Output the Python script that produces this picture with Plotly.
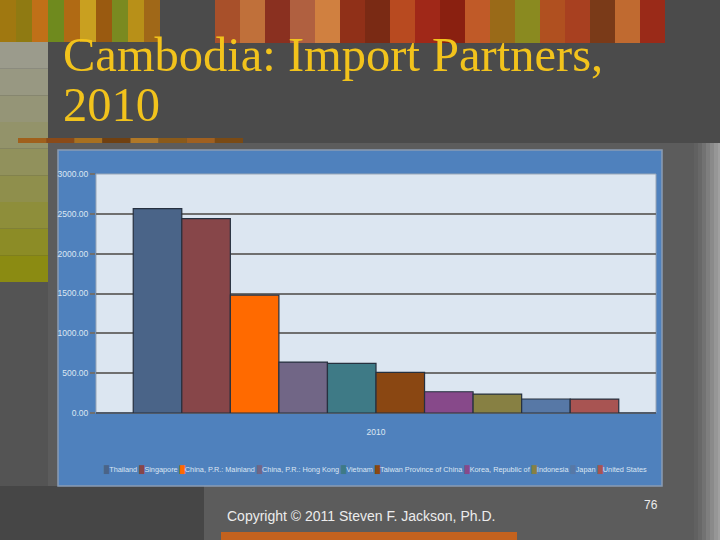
import plotly.graph_objects as go

# ---- data ----
year = ["2010"]
partners = ["Thailand", "Singapore", "China, P.R.: Mainland", "China, P.R.: Hong Kong",
            "Vietnam", "Taiwan Province of China", "Korea, Republic of", "Indonesia",
            "Japan", "United States"]
imports = [2565, 2440, 1479, 639, 623, 510, 267, 238, 176, 175]
bar_colors = ["#4a6488", "#874649", "#ff6a00", "#716686", "#3e7a86", "#8a4712",
              "#87498a", "#878043", "#5778a6", "#a85452"]
y_ticks = [0, 500, 1000, 1500, 2000, 2500, 3000]

W, H = 720, 540
L, R, T, B = 96, 656, 174, 413  # plot area in pixels
pw, ph = R - L, B - T


def px(x):
    return (x - L) / pw


def py(y):
    return (B - y) / ph


small = "Liberation Sans, Arial, sans-serif"

fig = go.Figure()
for name, val, col in zip(partners, imports, bar_colors):
    fig.add_trace(go.Bar(x=year, y=[val], name=name, marker=dict(color=col, line=dict(color="#26303f", width=1.2)),
                         showlegend=False))

shapes = []


def rect(x0, y0, x1, y1, color, layer="below"):
    shapes.append(dict(type="rect", xref="paper", yref="paper", x0=px(x0), x1=px(x1), y0=py(y0), y1=py(y1),
                       fillcolor=color, line=dict(width=0), layer=layer))


# slide background regions
rect(48, 143, 720, 540, "#5c5c5c")
rect(0, 486, 204, 540, "#464646")
rect(0, 282, 48, 486, "#545454")
# left olive strip (vertical gradient approximation)
strip_cols = ["#9b9b8c", "#989882", "#959577", "#93936a", "#91915c", "#8f8f4c", "#8e8e3a", "#8c8c26", "#8b8b12"]
n = len(strip_cols)
for i, c in enumerate(strip_cols):
    rect(0, 42 + i * (240 / n), 48, 42 + (i + 1) * (240 / n), c)
# right edge gradient
edge_cols = ["#616161", "#686868", "#727272", "#7e7e7e", "#8a8a8a", "#969696", "#a0a0a0"]
for i, c in enumerate(edge_cols):
    rect(694 + i * 4, 143, 698 + i * 4 + (6 if i == len(edge_cols) - 1 else 0), 540, c)
# top artwork approximations
art_left = ["#a07810", "#8f7a12", "#c07018", "#6f8a1e", "#b06a14", "#c9a020", "#9a5a10", "#7a8a20",
            "#b89018", "#a06818"]
wl = 160 / len(art_left)
for i, c in enumerate(art_left):
    rect(i * wl, 0, (i + 1) * wl, 42, c)
art_right = ["#a8502a", "#c0703a", "#8a3020", "#b06040", "#d08040", "#903018", "#7a2a14",
             "#b84a20", "#a02818", "#8a2010", "#c05a28", "#9a6a18", "#8a8a20", "#b05020", "#a84020",
             "#7a3a18", "#c06a30", "#9a2a18"]
wr = (665 - 215) / len(art_right)
for i, c in enumerate(art_right):
    rect(215 + i * wr, 0, 215 + (i + 1) * wr, 43, c)
# thin decorative strip under title
thin = ["#a0601c", "#8a4a18", "#a87020", "#704010", "#b07828", "#8a5a1a", "#a06020", "#7a4a14"]
wt = (243 - 18) / len(thin)
for i, c in enumerate(thin):
    rect(18 + i * wt, 138, 18 + (i + 1) * wt, 143, c)
# bottom orange bar
rect(221, 532, 517, 540, "#c4621e")
# chart frame
shapes.append(dict(type="rect", xref="paper", yref="paper", x0=px(58), x1=px(662), y0=py(486), y1=py(150),
                   fillcolor="#4f81bd", line=dict(color="#8a9cb4", width=1.5), layer="below"))
shapes.append(dict(type="rect", xref="paper", yref="paper", x0=0, x1=1, y0=0, y1=1,
                   fillcolor="#dce6f1", line=dict(color="#9aa6b6", width=1), layer="below"))

legend_text = " ".join(f"<span style='color:{c}'>█</span>{nm}" for nm, c in zip(partners, bar_colors))

annotations = [
    dict(text="Cambodia: Import Partners,", x=px(61), y=py(54), xref="paper", yref="paper",
         xanchor="left", yanchor="middle", showarrow=False,
         font=dict(family="Liberation Serif, DejaVu Serif, serif", size=48.5, color="#f2c31c")),
    dict(text="2010", x=px(61), y=py(104), xref="paper", yref="paper",
         xanchor="left", yanchor="middle", showarrow=False,
         font=dict(family="Liberation Serif, DejaVu Serif, serif", size=48.5, color="#f2c31c")),
    dict(text=legend_text, x=px(375), y=py(470), xref="paper", yref="paper",
         xanchor="center", yanchor="middle", showarrow=False,
         font=dict(family=small, size=7.3, color="#dce6f2")),
    dict(text="Copyright © 2011 Steven F. Jackson, Ph.D.", x=px(225), y=py(516), xref="paper", yref="paper",
         xanchor="left", yanchor="middle", showarrow=False,
         font=dict(family=small, size=14, color="#ececec")),
    dict(text="76", x=px(651), y=py(505), xref="paper", yref="paper",
         xanchor="center", yanchor="middle", showarrow=False,
         font=dict(family=small, size=12, color="#ececec")),
]

fig.update_layout(
    width=W, height=H,
    margin=dict(l=L, r=W - R, t=T, b=H - B, pad=0),
    paper_bgcolor="#4b4b4b",
    plot_bgcolor="rgba(0,0,0,0)",
    barmode="group",
    bargap=0.133,
    bargroupgap=0,
    showlegend=False,
    shapes=shapes,
    annotations=annotations,
    xaxis=dict(type="category", showgrid=False, ticks="", showline=False, zeroline=False,
               tickfont=dict(family=small, size=8.5, color="#dce6f2"), ticklabelstandoff=12),
    yaxis=dict(range=[0, 3000], tickvals=y_ticks, tickformat=".2f", ticks="outside", ticklen=5,
               tickcolor="#6f6f6f", tickwidth=1.5, showgrid=True, gridcolor="#6f6f6f", gridwidth=1.5,
               zeroline=True, zerolinecolor="#505a68", zerolinewidth=1.5, showline=False,
               tickfont=dict(family=small, size=8.5, color="#dce6f2")),
)

fig.write_html("out.html", config={"displayModeBar": False},
               post_script="document.body.style.margin='0';document.body.style.overflow='hidden';")
